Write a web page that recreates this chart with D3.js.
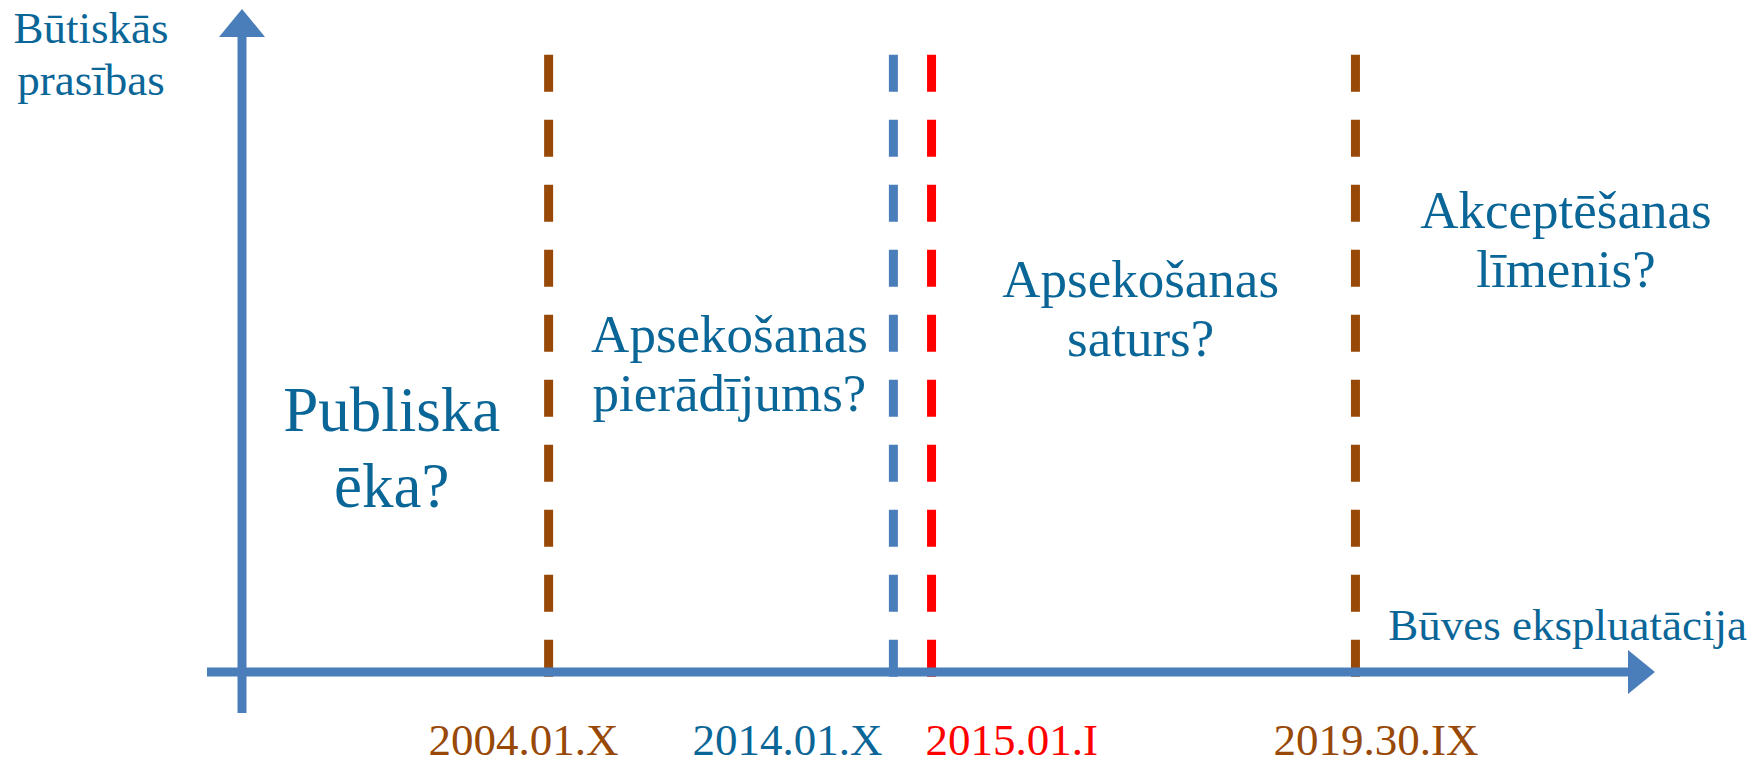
<!DOCTYPE html>
<html>
<head>
<meta charset="utf-8">
<script src="https://cdnjs.cloudflare.com/ajax/libs/d3/7.8.5/d3.min.js"></script>
<style>
  body { margin: 0; background: #fff; }
  svg text { font-family: "Liberation Serif", "Times New Roman", serif; }
</style>
</head>
<body>
<div class="chart"></div>
<script>
// timeline data (position along the operation axis, 0..100)
const markerDates = ["2004.01.X", "2014.01.X", "2015.01.I", "2019.30.IX"]
const markerPos = [21.7, 46.1, 48.8, 78.8]
const markerColors = ["#984807", "#4a7ebb", "#ff0000", "#984807"]
const labelColors = ["#984807", "#0b6698", "#ff0000", "#984807"]

// questions between the markers
const questions = [
  ["Publiska", "ēka?"],
  ["Apsekošanas", "pierādījums?"],
  ["Apsekošanas", "saturs?"],
  ["Akceptēšanas", "līmenis?"]
]
const questionPos = [10.6, 34.5, 63.6, 93.7]

const yTitle = ["Būtiskās", "prasības"]
const xTitle = "Būves ekspluatācija"

const w = 1755
const h = 765
const axisColor = "#4a7ebb"
const textColor = "#0b6698"

const svg = d3.select(".chart")
  .append("svg")
  .attr("width", w)
  .attr("height", h)

// scales
const xScale = d3.scaleLinear().domain([0, 100]).range([242, 1655])
const yScale = d3.scaleLinear().domain([0, 100]).range([672, 9])

// dashed marker lines
svg.selectAll(".marker")
  .data(markerPos)
  .enter()
  .append("line")
  .attr("class", "marker")
  .attr("x1", d => xScale(d))
  .attr("x2", d => xScale(d))
  .attr("y1", yScale(93.1))
  .attr("y2", yScale(0) + 5)
  .attr("stroke", (d, i) => markerColors[i])
  .attr("stroke-width", 9)
  .attr("stroke-dasharray", "37 28")

// axes
const x0 = xScale(0), y0 = yScale(0)
svg.append("line")
  .attr("x1", x0 - 35).attr("x2", xScale(100) - 26)
  .attr("y1", y0).attr("y2", y0)
  .attr("stroke", axisColor).attr("stroke-width", 9)
svg.append("path")
  .attr("d", `M${xScale(100)},${y0} L${xScale(100) - 27},${y0 - 22} L${xScale(100) - 27},${y0 + 22} Z`)
  .attr("fill", axisColor)

svg.append("line")
  .attr("x1", x0).attr("x2", x0)
  .attr("y1", y0 + 41).attr("y2", yScale(100) + 27)
  .attr("stroke", axisColor).attr("stroke-width", 9)
svg.append("path")
  .attr("d", `M${x0},${yScale(100)} L${x0 - 23},${yScale(100) + 28} L${x0 + 23},${yScale(100) + 28} Z`)
  .attr("fill", axisColor)

// date labels, shifted left of their line so the close pair does not collide
const labelShift = [-120, -201, -6, -82]
svg.selectAll(".date")
  .data(markerDates)
  .enter()
  .append("text")
  .attr("class", "date")
  .attr("x", (d, i) => xScale(markerPos[i]) + labelShift[i])
  .attr("y", 755)
  .attr("fill", (d, i) => labelColors[i])
  .style("font-size", "45px")
  .text(d => d)

// axis titles
svg.append("text")
  .attr("x", 91).attr("y", 43)
  .attr("text-anchor", "middle")
  .attr("fill", textColor)
  .style("font-size", "45px")
  .selectAll("tspan")
  .data(yTitle)
  .enter()
  .append("tspan")
  .attr("x", 91)
  .attr("dy", (d, i) => i ? 52 : 0)
  .text(d => d)

svg.append("text")
  .attr("x", 1747).attr("y", 640)
  .attr("text-anchor", "end")
  .attr("fill", textColor)
  .style("font-size", "45px")
  .text(xTitle)

// questions
const qBase = [431, 352, 297, 228]
questions.forEach((lines, i) => {
  const big = i == 0
  svg.append("text")
    .attr("text-anchor", "middle")
    .attr("fill", textColor)
    .attr("y", qBase[i])
    .style("font-size", big ? "63px" : "53px")
    .selectAll("tspan")
    .data(lines)
    .enter()
    .append("tspan")
    .attr("x", xScale(questionPos[i]))
    .attr("dy", (d, j) => j ? (big ? 76 : 59) : 0)
    .text(d => d)
})
</script>
</body>
</html>
